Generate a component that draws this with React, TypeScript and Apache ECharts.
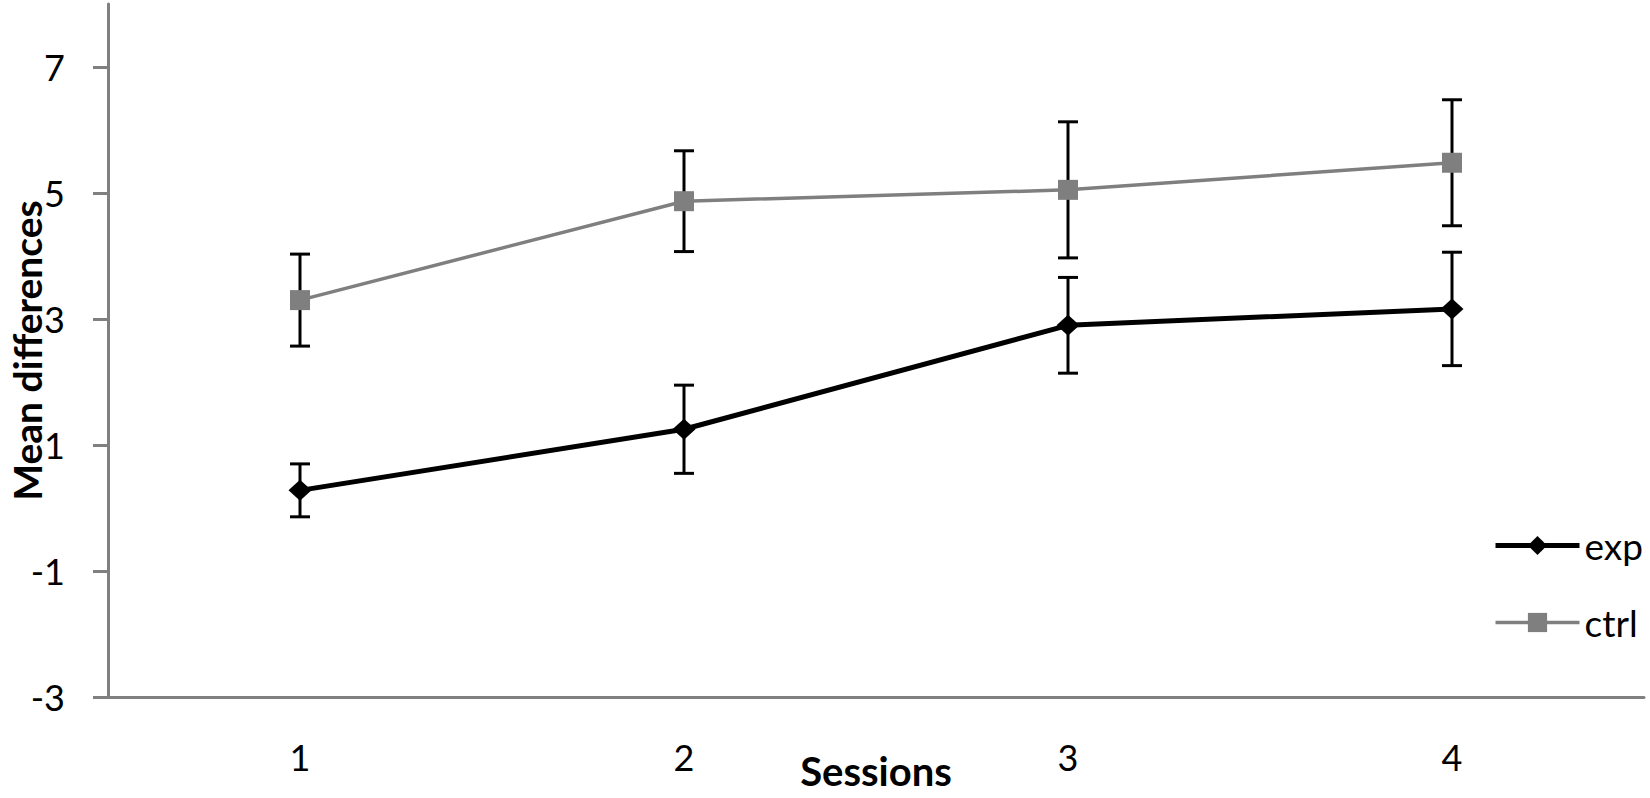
import React, { useEffect, useRef } from "react";
import * as echarts from "echarts";

const sessions = ["1", "2", "3", "4"];
const expMeans = [0.28, 1.25, 2.9, 3.16];
const expErr = [0.42, 0.7, 0.76, 0.9];
const ctrlMeans = [3.3, 4.87, 5.05, 5.48];
const ctrlErr = [0.73, 0.8, 1.08, 1.0];
const yTicks = [-3, -1, 1, 3, 5, 7];

const FONT = "Lato";

function errorData(means: number[], errs: number[]) {
  return means.map((m, i) => [i, m - errs[i], m + errs[i]]);
}

function errorRender(params: any, api: any) {
  const x = api.value(0);
  const lo = api.coord([x, api.value(1)]);
  const hi = api.coord([x, api.value(2)]);
  const half = 10;
  const style = { stroke: "#000", lineWidth: 3 };
  return {
    type: "group",
    children: [
      { type: "line", shape: { x1: lo[0], y1: lo[1], x2: hi[0], y2: hi[1] }, style },
      { type: "line", shape: { x1: lo[0] - half, y1: lo[1], x2: lo[0] + half, y2: lo[1] }, style },
      { type: "line", shape: { x1: hi[0] - half, y1: hi[1], x2: hi[0] + half, y2: hi[1] }, style },
    ],
  };
}

export default function App() {
  const ref = useRef<HTMLDivElement>(null);
  useEffect(() => {
    if (!ref.current) return;
    const chart = echarts.init(ref.current, null, { renderer: "svg" });
    chart.setOption({
      animation: false,
      backgroundColor: "#fff",
      grid: {
        left: 108,
        right: 6,
        top: 4,
        bottom: 101,
        containLabel: false,
        outerBoundsMode: "none",
      },
      legend: {
        orient: "vertical",
        left: 1488,
        top: 522,
        itemWidth: 84,
        itemHeight: 24,
        itemGap: 40,
        data: [
          { name: "exp", lineStyle: { width: 5, color: "#000" } },
          { name: "ctrl", lineStyle: { width: 3.5, color: "#7f7f7f" } },
        ],
        textStyle: { fontFamily: FONT, fontSize: 37, color: "#000" },
      },
      xAxis: {
        type: "category",
        data: sessions,
        boundaryGap: true,
        name: "Sessions",
        nameLocation: "middle",
        nameGap: 54,
        nameMoveOverlap: false,
        nameTextStyle: { fontFamily: FONT, fontSize: 40, lineHeight: 40, fontWeight: "bold", color: "#000" },
        axisLine: { onZero: false, lineStyle: { color: "#808080", width: 3 } },
        axisTick: { show: false },
        axisLabel: { fontFamily: FONT, fontSize: 36, color: "#000", margin: 42 },
        splitLine: { show: false },
      },
      yAxis: {
        type: "value",
        min: -3,
        max: 8,
        name: "Mean differences",
        nameLocation: "middle",
        nameGap: 62,
        nameMoveOverlap: false,
        nameTextStyle: { fontFamily: FONT, fontSize: 39, lineHeight: 39, fontWeight: "bold", color: "#000" },
        axisLine: { show: true, lineStyle: { color: "#808080", width: 3 } },
        axisTick: { show: true, length: 15, lineStyle: { color: "#808080", width: 3 }, customValues: yTicks },
        axisLabel: { fontFamily: FONT, fontSize: 36, color: "#000", margin: 43, customValues: yTicks },
        splitLine: { show: false },
      },
      series: [
        {
          type: "custom",
          name: "expErr",
          renderItem: errorRender,
          data: errorData(expMeans, expErr),
          z: 1,
          silent: true,
        },
        {
          type: "custom",
          name: "ctrlErr",
          renderItem: errorRender,
          data: errorData(ctrlMeans, ctrlErr),
          z: 1,
          silent: true,
        },
        {
          type: "line",
          name: "exp",
          data: expMeans,
          symbol: "diamond",
          symbolSize: [23, 21],
          itemStyle: { color: "#000" },
          lineStyle: { color: "#000", width: 5 },
          z: 3,
        },
        {
          type: "line",
          name: "ctrl",
          data: ctrlMeans,
          symbol: "rect",
          symbolSize: 20,
          itemStyle: { color: "#7f7f7f" },
          lineStyle: { color: "#7f7f7f", width: 3.5 },
          z: 3,
        },
      ],
    });
    return () => chart.dispose();
  }, []);
  return (
    <div
      ref={ref}
      style={{ position: "fixed", left: 0, top: 0, width: 1650, height: 798 }}
    />
  );
}
